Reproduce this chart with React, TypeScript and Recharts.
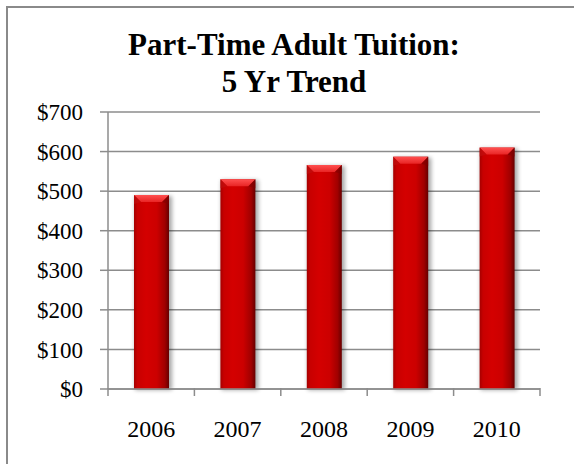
import { BarChart, Bar, XAxis, YAxis, CartesianGrid } from 'recharts'

const YEARS = ['2006', '2007', '2008', '2009', '2010']
const TUITION = [490, 530, 566, 587, 610]
const Y_TICKS = [0, 100, 200, 300, 400, 500, 600, 700]

const GRID = '#8c8c8c'
const FONT = '"Liberation Serif", "DejaVu Serif", serif'

const data = YEARS.map((year, i) => ({ year, tuition: TUITION[i] }))

function CylinderBar(props: any) {
  const { x, y, width, height } = props
  if (!height || height <= 0) return null
  const bev = Math.min(7, height / 2)
  return (
    <g>
      <defs>
        <linearGradient id="barBody" x1="0" y1="0" x2="1" y2="0">
          <stop offset="0%" stopColor="#a50000" />
          <stop offset="10%" stopColor="#c80000" />
          <stop offset="35%" stopColor="#d40000" />
          <stop offset="65%" stopColor="#cc0000" />
          <stop offset="88%" stopColor="#a00000" />
          <stop offset="100%" stopColor="#660000" />
        </linearGradient>
        <linearGradient id="barTop" x1="0" y1="0" x2="0" y2="1">
          <stop offset="0%" stopColor="#ff5050" />
          <stop offset="100%" stopColor="#e82424" />
        </linearGradient>
        <filter id="barShadow" x="-30%" y="-10%" width="160%" height="120%">
          <feGaussianBlur stdDeviation="2" />
        </filter>
      </defs>
      <rect x={x + 1} y={y + 1} width={width + 2} height={height} fill="#000" opacity={0.35} filter="url(#barShadow)" />
      <rect x={x} y={y} width={width} height={height} fill="url(#barBody)" />
      <polygon
        points={`${x},${y} ${x + width},${y} ${x + width - bev},${y + bev} ${x + bev},${y + bev}`}
        fill="url(#barTop)"
      />
      <polygon points={`${x},${y} ${x + bev},${y + bev} ${x},${y + bev + 2}`} fill="#c01010" opacity={0.6} />
      <polygon points={`${x + width},${y} ${x + width - bev},${y + bev} ${x + width},${y + bev + 2}`} fill="#800000" opacity={0.6} />
    </g>
  )
}

function YearTick(props: any) {
  const { x, y, payload, index } = props
  const off = payload?.offset ?? 43.2
  const axisY = y - 32
  return (
    <g>
      <line x1={x - off} x2={x - off} y1={axisY} y2={axisY + 8} stroke={GRID} strokeWidth={1.5} />
      {index === YEARS.length - 1 && (
        <line x1={x + off} x2={x + off} y1={axisY} y2={axisY + 8} stroke={GRID} strokeWidth={1.5} />
      )}
      <text x={x} y={y} dy="0.71em" textAnchor="middle" fontFamily={FONT} fontSize={24} fill="#000">
        {payload.value}
      </text>
    </g>
  )
}

export default function App() {
  return (
    <div style={{ position: 'absolute', left: 0, top: 0, width: 574, height: 464, overflow: 'hidden', background: '#fff' }}>
      <div
        style={{
          position: 'absolute',
          left: 6,
          top: 6,
          width: 640,
          height: 520,
          border: '2px solid #8a8a8a',
          boxSizing: 'border-box',
        }}
      />
      <svg width={574} height={120} style={{ position: 'absolute', left: 0, top: 0 }}>
        <text x={294} y={55} textAnchor="middle" fontFamily={FONT} fontWeight="bold" fontSize={31} fill="#000">
          Part-Time Adult Tuition:
        </text>
        <text x={294} y={92} textAnchor="middle" fontFamily={FONT} fontWeight="bold" fontSize={31} fill="#000">
          5 Yr Trend
        </text>
      </svg>
      <div style={{ position: 'absolute', left: 0, top: 0 }}>
        <BarChart width={574} height={464} data={data} margin={{ top: 112, right: 34, bottom: 15, left: 0 }}>
          <CartesianGrid vertical={false} stroke={GRID} strokeWidth={1.5} />
          <XAxis
            dataKey="year"
            height={60}
            axisLine={{ stroke: GRID, strokeWidth: 1.5 }}
            tickLine={false}
            tickSize={8}
            tickMargin={23}
            tick={<YearTick />}
            interval={0}
          />
          <YAxis
            width={108}
            domain={[0, 700]}
            ticks={Y_TICKS}
            interval={0}
            tickFormatter={(v: number) => `$${v}`}
            axisLine={{ stroke: GRID, strokeWidth: 1.5 }}
            tickLine={{ stroke: GRID, strokeWidth: 1.5 }}
            tickSize={8}
            tickMargin={17}
            tick={{ fontFamily: FONT, fontSize: 23, fill: '#000' }}
          />
          <Bar dataKey="tuition" barSize={35} shape={<CylinderBar />} isAnimationActive={false} />
        </BarChart>
      </div>
    </div>
  )
}
